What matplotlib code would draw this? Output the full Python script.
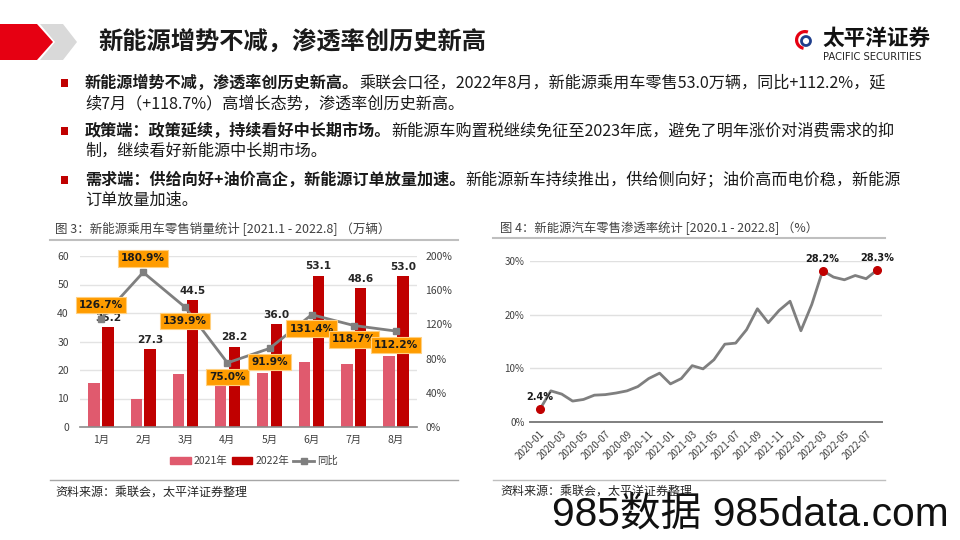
import matplotlib
matplotlib.use('Agg')
import matplotlib.pyplot as plt
from matplotlib.patches import Polygon, Rectangle, Wedge, Circle
from matplotlib.lines import Line2D
import numpy as np

plt.rcParams['font.family'] = ['Noto Sans CJK SC', 'DejaVu Sans']

# ---------------- data ----------------
months = ['1月', '2月', '3月', '4月', '5月', '6月', '7月', '8月']
sales_2021 = [15.5, 9.7, 18.5, 16.1, 18.8, 22.9, 22.2, 25.0]
sales_2022 = [35.2, 27.3, 44.5, 28.2, 36.0, 53.1, 48.6, 53.0]
yoy = [126.7, 180.9, 139.9, 75.0, 91.9, 131.4, 118.7, 112.2]

pen_dates = [f'{y}-{m:02d}' for y in (2020, 2021, 2022) for m in range(1, 13)][:32]
pen_rate = [2.4, 5.8, 5.2, 3.9, 4.2, 5.0, 5.1, 5.4, 5.8, 6.6, 8.1, 9.1,
            7.1, 8.1, 10.5, 9.9, 11.6, 14.5, 14.7, 17.2, 21.1, 18.5, 20.8, 22.5,
            17.0, 21.9, 28.2, 27.0, 26.5, 27.3, 26.7, 28.3]
pen_highlight = [0, 26, 31]

W, H = 960, 540
fig = plt.figure(figsize=(9.6, 5.4), dpi=100)
fig.patch.set_facecolor('white')

def px_rect(l, t, r, b):
    return [l / W, 1 - b / H, (r - l) / W, (b - t) / H]

# background overlay axes in pixel coordinates
bg = fig.add_axes([0, 0, 1, 1])
bg.set_xlim(0, W)
bg.set_ylim(H, 0)
bg.axis('off')
bg.patch.set_alpha(0)

# header shapes
bg.add_patch(Polygon([(0, 24), (37, 24), (53, 42), (37, 60), (0, 60)], closed=True,
                     facecolor='#E60012', edgecolor='none'))
bg.add_patch(Polygon([(40, 24), (63, 24), (77, 42), (63, 60), (40, 60), (55, 42)], closed=True,
                     facecolor='#D9D9D9', edgecolor='none'))
bg.text(98, 43, '新能源增势不减，渗透率创历史新高', fontsize=17.5, fontweight='bold',
        color='#1a1a1a', va='center', ha='left')

# logo
bg.add_patch(Wedge((805, 40), 10, 100, 290, width=3.2, facecolor='#E60012', edgecolor='none'))
bg.add_patch(Circle((806, 41), 4.5, facecolor='none', edgecolor='#1F3E8C', linewidth=2))
bg.text(822, 38, '太平洋证券', fontsize=15.6, fontweight='bold', color='#111111',
        va='center', ha='left')
bg.text(823, 57, 'PACIFIC SECURITIES', fontsize=7.2, color='#222222', va='center', ha='left',
        family=['DejaVu Sans'])

# bullet text
fig.canvas.draw()
renderer = fig.canvas.get_renderer()

def seg_line(x, y, parts, size=11.6):
    for txt, bold in parts:
        t = bg.text(x, y, txt, fontsize=size, fontweight='bold' if bold else 'normal',
                    va='center', ha='left', color='#1a1a1a')
        bb = t.get_window_extent(renderer)
        x = bb.x1

bullets = [
    (83, [('新能源增势不减，渗透率创历史新高。', True),
          ('乘联会口径，2022年8月，新能源乘用车零售53.0万辆，同比+112.2%，延', False)],
     [('续7月（+118.7%）高增长态势，渗透率创历史新高。', False)]),
    (131, [('政策端：政策延续，持续看好中长期市场。', True),
           ('新能源车购置税继续免征至2023年底，避免了明年涨价对消费需求的抑', False)],
     [('制，继续看好新能源中长期市场。', False)]),
    (180, [('需求端：供给向好+油价高企，新能源订单放量加速。', True),
           ('新能源新车持续推出，供给侧向好；油价高而电价稳，新能源', False)],
     [('订单放量加速。', False)]),
]
for y, l1, l2 in bullets:
    bg.add_patch(Rectangle((61, y - 4), 7, 8, facecolor='#C00000', edgecolor='none'))
    seg_line(85, y, l1)
    seg_line(85, y + 20.5, l2)

# chart titles / separators / sources
bg.text(55, 229, '图 3：新能源乘用车零售销量统计 [2021.1 - 2022.8] （万辆）', fontsize=9.0,
        color='#404040', va='center', ha='left')
bg.plot([50, 458], [240, 240], color='#BFBFBF', lw=1.5)
bg.plot([50, 458], [480, 480], color='#A6A6A6', lw=1.0)
bg.text(55, 493, '资料来源：乘联会，太平洋证券整理', fontsize=8.65, color='#262626',
        va='center', ha='left')

bg.text(500, 228, '图 4：新能源汽车零售渗透率统计 [2020.1 - 2022.8] （%）', fontsize=8.9,
        color='#404040', va='center', ha='left')
bg.plot([493, 885], [238, 238], color='#BFBFBF', lw=1.5)
bg.plot([493, 885], [480, 480], color='#BFBFBF', lw=1.0)
bg.text(500, 492, '资料来源：乘联会，太平洋证券整理', fontsize=8.65, color='#262626',
        va='center', ha='left')

# watermark
bg.text(552, 514, '985数据 985data.com', fontsize=29.3, color='#111111', va='center', ha='left',
        family=['Liberation Sans', 'Noto Sans CJK SC'])

# ---------------- chart 1 ----------------
ax1 = fig.add_axes(px_rect(80, 256, 417, 427))
x = np.arange(len(months))
bw = 0.27
off = 0.164
ax1.bar(x - off, sales_2021, bw, color='#E05A6E', zorder=2, label='2021年')
ax1.bar(x + off, sales_2022, bw, color='#C00000', zorder=2, label='2022年')
for xi, v in zip(x, sales_2022):
    ax1.annotate(f'{v:.1f}', (xi + off, v), xytext=(0, 3), textcoords='offset points',
                 ha='center', va='bottom', fontsize=7.6, fontweight='bold', color='#262626',
                 family=['DejaVu Sans'], zorder=5)
ax1.set_xlim(-0.5, len(months) - 0.5)
ax1.set_ylim(0, 60)
ax1.set_yticks(range(0, 61, 10))
ax1.set_xticks(x)
ax1.set_xticklabels(months)
ax1.grid(axis='y', color='#E3E3E3', lw=1, zorder=0)
ax1.set_axisbelow(True)
for s in ['top', 'right', 'left']:
    ax1.spines[s].set_visible(False)
ax1.spines['bottom'].set_color('#8C8C8C')
ax1.spines['bottom'].set_linewidth(1.2)
ax1.tick_params(axis='both', length=0, labelsize=7.5, colors='#404040')
ax1.tick_params(axis='x', pad=6)
ax1.tick_params(axis='y', pad=8)
ax1.patch.set_alpha(0)

ax1r = ax1.twinx()
ax1r.plot(x, yoy, color='#7F7F7F', lw=2, marker='s', markersize=5, zorder=3, label='同比')
ax1r.set_ylim(0, 200)
ax1r.set_yticks(range(0, 201, 40))
ax1r.set_yticklabels([f'{v}%' for v in range(0, 201, 40)])
for s in ['top', 'right', 'left', 'bottom']:
    ax1r.spines[s].set_visible(False)
ax1r.tick_params(axis='y', length=0, labelsize=7.5, colors='#404040', pad=6)
label_pos = ['above', 'above', 'below', 'below', 'below', 'below', 'below', 'below']
for xi, v, p in zip(x, yoy, label_pos):
    dy = 10 if p == 'above' else -10
    ax1r.annotate(f'{v:.1f}%', (xi, v), xytext=(0, dy), textcoords='offset points',
                  ha='center', va='center', fontsize=7.6, fontweight='bold', color='#1a1a1a',
                  family=['DejaVu Sans'], zorder=6,
                  bbox=dict(boxstyle='square,pad=0.3', facecolor='#FF9C00',
                            edgecolor='#FFD080', linewidth=0.8))

handles = [Rectangle((0, 0), 1, 1, color='#E05A6E'), Rectangle((0, 0), 1, 1, color='#C00000'),
           Line2D([], [], color='#7F7F7F', lw=2, marker='s', markersize=4)]
fig.legend(handles, ['2021年', '2022年', '同比'], loc='center',
           bbox_to_anchor=(254 / W, 1 - 461 / H), ncol=3, frameon=False, fontsize=7.5,
           handlelength=2.0, handleheight=0.6, columnspacing=0.4, handletextpad=0.3,
           labelcolor='#404040')

# ---------------- chart 2 ----------------
ax2 = fig.add_axes(px_rect(530, 261, 882, 422))
xi2 = np.arange(len(pen_rate))
ax2.plot(xi2, pen_rate, color='#7F7F7F', lw=2, clip_on=False, zorder=3)
for i in pen_highlight:
    ax2.plot(xi2[i], pen_rate[i], 'o', color='#C00000', markersize=5.5, clip_on=False, zorder=4)
    ax2.annotate(f'{pen_rate[i]:.1f}%', (xi2[i], pen_rate[i]), xytext=(0, 5),
                 textcoords='offset points', ha='center', va='bottom', fontsize=7,
                 fontweight='bold', color='#1a1a1a', family=['DejaVu Sans'])
ax2.set_xlim(-0.92, 31.46)
ax2.set_ylim(0, 30)
ax2.set_yticks([0, 10, 20, 30])
ax2.set_yticklabels(['0%', '10%', '20%', '30%'])
ax2.set_xticks(xi2[::2])
ax2.set_xticklabels(pen_dates[::2], rotation=45, ha='right', rotation_mode='anchor')
ax2.grid(axis='y', color='#E0E0E0', lw=1, zorder=0)
ax2.set_axisbelow(True)
for s in ['top', 'right', 'left']:
    ax2.spines[s].set_visible(False)
ax2.spines['bottom'].set_color('#7F7F7F')
ax2.spines['bottom'].set_linewidth(1.4)
ax2.tick_params(axis='both', length=0, labelsize=7, colors='#404040')
ax2.tick_params(axis='x', pad=5)
ax2.tick_params(axis='y', pad=4)
ax2.patch.set_alpha(0)

fig.savefig('out.png', dpi=100)
